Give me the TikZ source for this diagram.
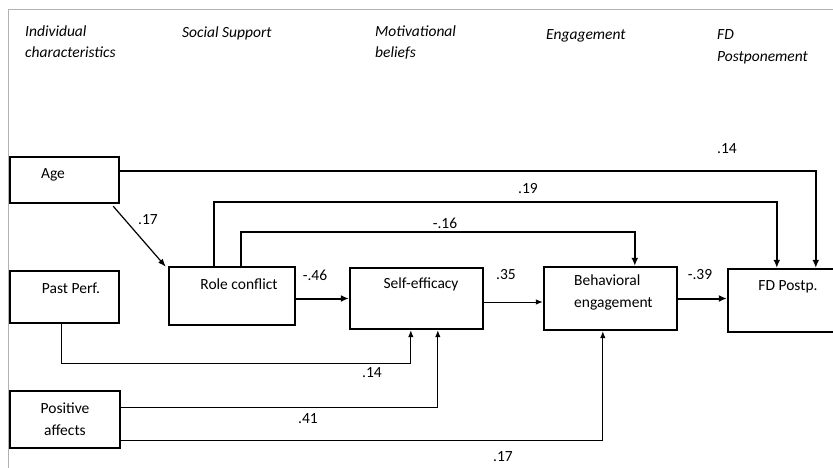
\documentclass[tikz,border=0pt]{standalone}
\usepackage{fontspec}
\setmainfont{Carlito}
\usetikzlibrary{arrows.meta,calc}
\begin{document}
\begin{tikzpicture}[x=1pt,y=-1pt,
  font=\fontsize{15.5}{22}\selectfont,
  box/.style={draw,line width=2.4pt,inner sep=0pt},
  txt/.style={inner sep=0pt},
  head/.style={inner sep=0pt,anchor=base west,font=\fontsize{15.5}{21}\selectfont\itshape},
  coef/.style={inner sep=0pt},
  heavy/.style={line width=2pt,-{Latex[length=8pt,width=7pt]}},
  light/.style={line width=1pt,-{Latex[length=7pt,width=5.5pt]}}]
\clip (0,0) rectangle (833,468);
\fill[white] (0,0) rectangle (833,468);
% outer frame
\draw[gray!60,line width=1pt] (8,468) -- (8,9.5) -- (833,9.5);

% column headings
\node[head] (h1) at (25,37) {Individual};
\node[head] (h1b) at (25,58) {characteristics};
\node[head] (h2) at (182,38) {Social Support};
\node[head] (h3) at (375,37) {Motivational};
\node[head] (h3b) at (375,58) {beliefs};
\node[head] (h4) at (546,40) {Engagement};
\node[head] (h5) at (717,40) {FD};
\node[head] (h5b) at (717,62) {Postponement};

% boxes
\node[box,minimum width=109,minimum height=46] (age) at (64.5,180) {};
\node[box,minimum width=109,minimum height=52] (past) at (64.5,297) {};
\node[box,minimum width=110,minimum height=57] (pos) at (65,419.5) {};
\node[box,minimum width=126,minimum height=58] (role) at (232,296) {};
\node[box,minimum width=133,minimum height=61] (self) at (416.5,298.5) {};
\node[box,minimum width=133,minimum height=63] (beh) at (610.5,298.5) {};
\node[box,minimum width=117,minimum height=63] (fd) at (786.5,300.5) {};

% box texts
\node[txt] (ageT) at (53,175) {Age};
\node[txt] (pastT) at (71,288) {Past Perf.};
\node[txt,align=center] (posT) at (65,419) {Positive\\affects};
\node[txt] (roleT) at (239,284) {Role conflict};
\node[txt] (selfT) at (421,284) {Self-efficacy};
\node[txt,align=left,anchor=north west] (behT) at (574,275) {Behavioral\\engagement};
\node[txt] (fdT) at (788,287) {FD Postp.};

% connection points
\coordinate (fdA) at ($(fd.north west)+(89,0)$);
\coordinate (fdB) at ($(fd.north west)+(50,0)$);
\coordinate (behB) at ($(beh.north west)+(92,0)$);

% paths
\draw[heavy] ($(age.north east)+(0,15)$) -| (fdA);
\draw[line width=1.2pt,-{Latex[length=8pt,width=6pt]}] ($(age.south east)+(-7,2)$) -- ($(role.north west)+(-2,1)$);
\draw[heavy] ($(role.north west)+(46,0)$) -- ++(0,-64) -| (fdB);
\draw[heavy] ($(role.north west)+(73,0)$) -- ++(0,-34) -| (behB);
\draw[heavy] (self.west -| role.east) -- (self.west);
\draw[light] ($(self.east)+(0,3.5)$) -- ($(beh.west)+(0,3.5)$);
\draw[heavy] (beh.east) -- (beh.east -| fd.west);
\draw[light] ($(past.south west)+(53,0)$) |- ($(self.south west)+(62,33)$) -- ($(self.south west)+(62,0)$);
\draw[light] ($(pos.north east)+(0,18)$) -| ($(self.south west)+(89,0)$);
\draw[light] ($(pos.south east)+(0,-9)$) -| ($(beh.south west)+(60,0)$);

% coefficients
\node[coef] (c1) at (727,149) {.14};
\node[coef] (c2) at (528,189) {.19};
\node[coef] (c3) at (445,223) {-.16};
\node[coef] (c4) at (148,220) {.17};
\node[coef] (c5) at (315,275) {-.46};
\node[coef] (c6) at (506,275) {.35};
\node[coef] (c7) at (700,275) {-.39};
\node[coef] (c8) at (372,373) {.14};
\node[coef] (c9) at (308,419) {.41};
\node[coef] (c10) at (503,457) {.17};
\end{tikzpicture}
\end{document}
